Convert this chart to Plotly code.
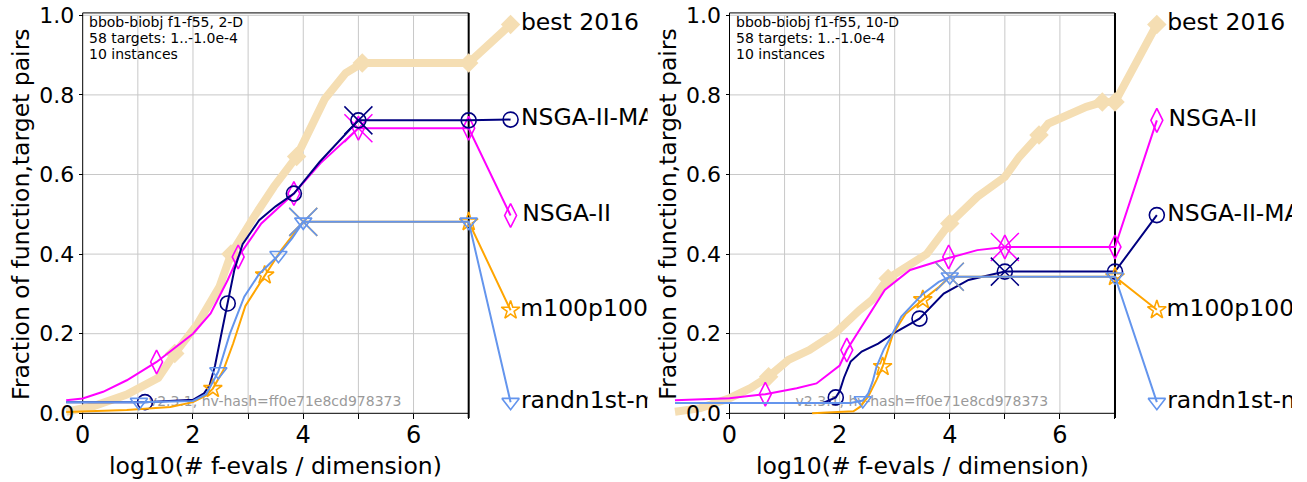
import plotly.graph_objects as go

# ---------------- data: 2-D panel ----------------
names = ["best 2016", "NSGA-II", "NSGA-II-MA", "m100p100", "randn1st-m"]

d2_best_x = [-0.30, 0.2, 0.8, 1.37, 1.67, 2.09, 2.48, 2.69, 3.09, 3.47, 3.88, 4.08, 4.39, 4.77, 5.07, 7.0]
d2_best_y = [0.004, 0.018, 0.047, 0.089, 0.15, 0.226, 0.318, 0.40, 0.49, 0.57, 0.645, 0.70, 0.79, 0.855, 0.88, 0.88]
d2_best_mx = [1.67, 2.69, 3.88, 5.07, 7.0]
d2_best_my = [0.15, 0.40, 0.645, 0.88, 0.88]

d2_nsga_x = [-0.30, 0.0, 0.37, 0.8, 1.34, 1.70, 2.0, 2.32, 2.63, 2.82, 3.24, 3.83, 4.31, 5.0, 7.0]
d2_nsga_y = [0.033, 0.037, 0.054, 0.083, 0.129, 0.167, 0.2, 0.251, 0.335, 0.393, 0.477, 0.552, 0.628, 0.716, 0.716]
d2_nsga_mx = [1.34, 2.82, 3.83, 5.0, 7.0]
d2_nsga_my = [0.129, 0.393, 0.552, 0.716, 0.716]

d2_ma_x = [-0.30, 1.13, 2.0, 2.2, 2.3, 2.4, 2.53, 2.63, 2.75, 2.9, 3.2, 3.5, 3.83, 4.3, 4.7, 5.0, 7.0]
d2_ma_y = [0.028, 0.028, 0.034, 0.05, 0.07, 0.12, 0.21, 0.276, 0.36, 0.425, 0.485, 0.52, 0.552, 0.632, 0.69, 0.736, 0.736]
d2_ma_mx = [1.13, 2.63, 3.83, 5.0, 7.0]
d2_ma_my = [0.028, 0.276, 0.552, 0.736, 0.736]

d2_m100_x = [-0.30, 0.8, 1.59, 2.0, 2.24, 2.36, 2.55, 2.73, 2.95, 3.3, 3.6, 4.0, 7.0]
d2_m100_y = [0.003, 0.008, 0.016, 0.028, 0.045, 0.062, 0.108, 0.176, 0.27, 0.347, 0.41, 0.481, 0.481]
d2_m100_mx = [2.36, 3.3, 7.0]
d2_m100_my = [0.062, 0.347, 0.481]

d2_rand_x = [-0.30, 1.02, 2.0, 2.24, 2.46, 2.67, 2.93, 3.2, 3.55, 3.8, 4.0, 7.0]
d2_rand_y = [0.028, 0.028, 0.031, 0.048, 0.105, 0.2, 0.293, 0.35, 0.397, 0.44, 0.481, 0.481]
d2_rand_mx = [1.02, 2.46, 3.55, 4.0, 7.0]
d2_rand_my = [0.028, 0.105, 0.397, 0.481, 0.481]

d2_label_y = [0.977, 0.497, 0.738, 0.259, 0.028]
d2_cross_x = [None, 5.0, 5.0, 4.0, 4.0]
d2_cross_y = [None, 0.716, 0.736, 0.481, 0.481]

# ---------------- data: 10-D panel ----------------
d10_best_x = [-0.99, -0.53, 0.0, 0.38, 0.71, 1.07, 1.45, 1.91, 2.36, 2.59, 2.88, 3.28, 3.58, 4.0, 4.5, 5.0, 5.26, 5.62, 5.79, 6.48, 6.77, 7.0]
d10_best_y = [0.004, 0.013, 0.038, 0.063, 0.092, 0.134, 0.159, 0.2, 0.259, 0.285, 0.339, 0.377, 0.40, 0.477, 0.544, 0.594, 0.644, 0.699, 0.728, 0.77, 0.782, 0.782]
d10_best_mx = [0.71, 2.88, 4.0, 5.62, 6.77, 7.0]
d10_best_my = [0.092, 0.339, 0.477, 0.699, 0.782, 0.782]

d10_nsga_x = [-0.99, 0.0, 0.65, 1.22, 1.58, 2.0, 2.13, 2.52, 2.82, 3.28, 3.98, 4.5, 5.0, 7.0]
d10_nsga_y = [0.033, 0.038, 0.048, 0.063, 0.075, 0.12, 0.159, 0.243, 0.31, 0.36, 0.39, 0.41, 0.418, 0.418]
d10_nsga_mx = [0.65, 2.13, 3.98, 5.0, 7.0]
d10_nsga_my = [0.048, 0.159, 0.393, 0.418, 0.418]

d10_ma_x = [-0.99, 1.7, 1.93, 2.0, 2.08, 2.2, 2.4, 2.7, 2.97, 3.45, 3.89, 4.34, 5.0, 7.0]
d10_ma_y = [0.026, 0.026, 0.04, 0.055, 0.09, 0.13, 0.155, 0.175, 0.2, 0.238, 0.301, 0.335, 0.356, 0.356]
d10_ma_mx = [1.93, 3.45, 5.0, 7.0]
d10_ma_my = [0.04, 0.238, 0.356, 0.356]

d10_m100_x = [1.5, 2.25, 2.37, 2.52, 2.67, 2.78, 2.97, 3.2, 3.51, 3.81, 4.0, 7.0]
d10_m100_y = [0.0, 0.005, 0.016, 0.042, 0.084, 0.117, 0.2, 0.25, 0.285, 0.318, 0.343, 0.343]
d10_m100_mx = [2.78, 3.51, 7.0]
d10_m100_my = [0.117, 0.285, 0.343]

d10_rand_x = [-0.99, 2.2, 2.42, 2.52, 2.6, 2.67, 2.8, 2.9, 3.12, 3.51, 3.8, 4.0, 7.0]
d10_rand_y = [0.026, 0.026, 0.032, 0.05, 0.08, 0.117, 0.16, 0.184, 0.243, 0.3, 0.33, 0.343, 0.343]
d10_rand_mx = [2.42, 4.0, 7.0]
d10_rand_my = [0.032, 0.343, 0.343]

d10_label_y = [0.977, 0.736, 0.498, 0.26, 0.028]
d10_cross_x = [None, 5.0, 5.0, 4.0, 4.0]
d10_cross_y = [None, 0.418, 0.356, 0.343, 0.343]

label_x = 7.76
x_ticks = [0, 1, 2, 3, 4, 5, 6, 7]
x_ticktext = ["0", "", "2", "", "4", "", "6", ""]
y_ticks = [0.0, 0.2, 0.4, 0.6, 0.8, 1.0]
panel_titles = [["bbob-biobj f1-f55, 2-D", "58 targets: 1..-1.0e-4", "10 instances"],
                ["bbob-biobj f1-f55, 10-D", "58 targets: 1..-1.0e-4", "10 instances"]]
version_text = "v2.3.1, hv-hash=ff0e71e8cd978373"

# ---------------- styles ----------------
colors = ["#F5DEB3", "#FF00FF", "#000080", "#FFA500", "#6495ED"]
widths = [8, 2, 2, 2, 2]
symbols = ["diamond", "diamond-tall-open", "circle-open", "star-open", "triangle-down-open"]
msizes = [15, 17, 15, 14, 15]

W, H = 1307, 482
FONT = "DejaVu Sans"


def pxx(p):
    return p / W


def pxy(p):
    return (H - p) / H


panels = [
    dict(series=[(d2_best_x, d2_best_y, d2_best_mx, d2_best_my),
                 (d2_nsga_x, d2_nsga_y, d2_nsga_mx, d2_nsga_my),
                 (d2_ma_x, d2_ma_y, d2_ma_mx, d2_ma_my),
                 (d2_m100_x, d2_m100_y, d2_m100_mx, d2_m100_my),
                 (d2_rand_x, d2_rand_y, d2_rand_mx, d2_rand_my)],
         labels=["best 2016", "NSGA-II", "NSGA-II-MA", "m100p100", "randn1st-m"],
         label_y=d2_label_y, cross_x=d2_cross_x, cross_y=d2_cross_y,
         x0px=82.7, pxu=55.14, left_px=60, right_px=647.5),
    dict(series=[(d10_best_x, d10_best_y, d10_best_mx, d10_best_my),
                 (d10_nsga_x, d10_nsga_y, d10_nsga_mx, d10_nsga_my),
                 (d10_ma_x, d10_ma_y, d10_ma_mx, d10_ma_my),
                 (d10_m100_x, d10_m100_y, d10_m100_mx, d10_m100_my),
                 (d10_rand_x, d10_rand_y, d10_rand_mx, d10_rand_my)],
         labels=["best 2016", "NSGA-II", "NSGA-II-MA", "m100p100", "randn1st-m"],
         label_y=d10_label_y, cross_x=d10_cross_x, cross_y=d10_cross_y,
         x0px=729.5, pxu=55.07, left_px=668, right_px=1292),
]

y0px, ypu = 413.3, 398.0
yr = [-0.04, 1.03]
ydom = [pxy(y0px - yr[0] * ypu), pxy(y0px - yr[1] * ypu)]

fig = go.Figure()
layout = dict(width=W, height=H, margin=dict(l=0, r=0, t=0, b=0, autoexpand=False),
              paper_bgcolor="white", plot_bgcolor="rgba(0,0,0,0)",
              showlegend=False, font=dict(family=FONT, color="black"))
shapes = []
annotations = []
draw_order = [0, 1, 2, 3, 4]

for pi, P in enumerate(panels):
    xa = "x" if pi == 0 else "x2"
    ya = "y" if pi == 0 else "y2"
    xr = [(P["left_px"] - P["x0px"]) / P["pxu"], (P["right_px"] - P["x0px"]) / P["pxu"]]
    xdom = [pxx(P["left_px"]), pxx(P["right_px"])]
    key = "" if pi == 0 else "2"
    layout["xaxis" + key] = dict(domain=xdom, range=xr, anchor="free", position=pxy(y0px),
                                 tickmode="array", tickvals=x_ticks, ticktext=x_ticktext,
                                 ticks="outside", ticklen=5, tickwidth=1, tickcolor="black",
                                 tickfont=dict(size=24, family=FONT, color="black"),
                                 ticklabeloverflow="allow", ticklabelstandoff=-5,
                                 automargin=False,
                                 showgrid=False, zeroline=False, showline=False)
    layout["yaxis" + key] = dict(domain=ydom, range=yr, anchor="free", position=pxx(P["x0px"]),
                                 tickmode="array", tickvals=y_ticks, tickformat=".1f",
                                 ticks="outside", ticklen=4, tickwidth=1, tickcolor="black",
                                 tickfont=dict(size=22, family=FONT, color="black"),
                                 ticklabeloverflow="allow", automargin=False,
                                 showgrid=False, zeroline=False, showline=False)
    # grid lines
    for gx in [1, 2, 3, 4, 5, 6]:
        shapes.append(dict(type="line", xref=xa, yref=ya, x0=gx, x1=gx, y0=0, y1=1,
                           line=dict(color="#c8c8c8", width=1), layer="below"))
    for gy in [0.2, 0.4, 0.6, 0.8, 1.0]:
        shapes.append(dict(type="line", xref=xa, yref=ya, x0=0, x1=7, y0=gy, y1=gy,
                           line=dict(color="#c8c8c8", width=1), layer="below"))
    # spines
    shapes.append(dict(type="line", xref=xa, yref=ya, x0=0, x1=0, y0=0, y1=1.006,
                       line=dict(color="black", width=1), layer="below"))
    shapes.append(dict(type="line", xref=xa, yref=ya, x0=0, x1=7, y0=0, y1=0,
                       line=dict(color="black", width=1), layer="below"))
    shapes.append(dict(type="line", xref=xa, yref=ya, x0=0, x1=7, y0=1.006, y1=1.006,
                       line=dict(color="black", width=1), layer="below"))
    shapes.append(dict(type="line", xref=xa, yref=ya, x0=7, x1=7, y0=-0.012, y1=1.006,
                       line=dict(color="black", width=2), layer="below"))

    # version text (under curves)
    fig.add_trace(go.Scatter(x=[1.2], y=[0.028], mode="text", text=[version_text],
                             textposition="middle right", xaxis=xa, yaxis=ya,
                             textfont=dict(size=14, family=FONT, color="#9a9a9a"), hoverinfo="skip"))

    for si in draw_order:
        cx, cy, mx, my = P["series"][si]
        col = colors[si]
        lx = list(cx) + [label_x]
        ly = list(cy) + [P["label_y"][si]]
        fig.add_trace(go.Scatter(x=lx, y=ly, mode="lines", xaxis=xa, yaxis=ya,
                                 line=dict(color=col, width=widths[si]), hoverinfo="skip"))
        filled = si == 0
        mk = dict(symbol=symbols[si], size=msizes[si], color=col,
                  line=dict(color=col, width=0 if filled else 1.6))
        fig.add_trace(go.Scatter(x=mx, y=my, mode="markers", xaxis=xa, yaxis=ya,
                                 marker=mk, hoverinfo="skip"))
        fig.add_trace(go.Scatter(x=[label_x], y=[P["label_y"][si]], mode="markers+text",
                                 text=[P["labels"][si]], textposition="middle right",
                                 textfont=dict(size=23.5, family=FONT, color="black"),
                                 xaxis=xa, yaxis=ya, marker=mk, cliponaxis=True, hoverinfo="skip"))
        if P["cross_x"][si] is not None:
            fig.add_trace(go.Scatter(x=[P["cross_x"][si]], y=[P["cross_y"][si]], mode="markers",
                                     xaxis=xa, yaxis=ya,
                                     marker=dict(symbol="x-thin-open", size=28, color=col,
                                                 line=dict(color=col, width=1.5)),
                                     hoverinfo="skip"))

    # panel info text
    for li, line in enumerate(panel_titles[pi]):
        annotations.append(dict(xref="paper", yref="paper", x=pxx(P["x0px"] + 4.5),
                                y=pxy(22.5 + 15.8 * li), xanchor="left", yanchor="middle",
                                text=line, showarrow=False,
                                font=dict(size=14, family=FONT, color="black")))
    # axis titles
    annotations.append(dict(xref="paper", yref="paper", x=pxx(P["x0px"] - 61.7), y=pxy(214),
                            xanchor="center", yanchor="middle", textangle=-90,
                            text="Fraction of function,target pairs", showarrow=False,
                            font=dict(size=23.5, family=FONT, color="black")))
    annotations.append(dict(xref="paper", yref="paper", x=pxx(P["x0px"] + 3.5 * P["pxu"]),
                            y=pxy(466), xanchor="center", yanchor="middle",
                            text="log10(# f-evals / dimension)", showarrow=False,
                            font=dict(size=23.5, family=FONT, color="black")))

layout["shapes"] = shapes
layout["annotations"] = annotations
fig.update_layout(**layout)
# remove the browser's default 8px body margin so the figure fills the window exactly
fig.write_html("out.html", config={"displayModeBar": False, "staticPlot": True},
               post_script="document.body.style.margin='0';")
